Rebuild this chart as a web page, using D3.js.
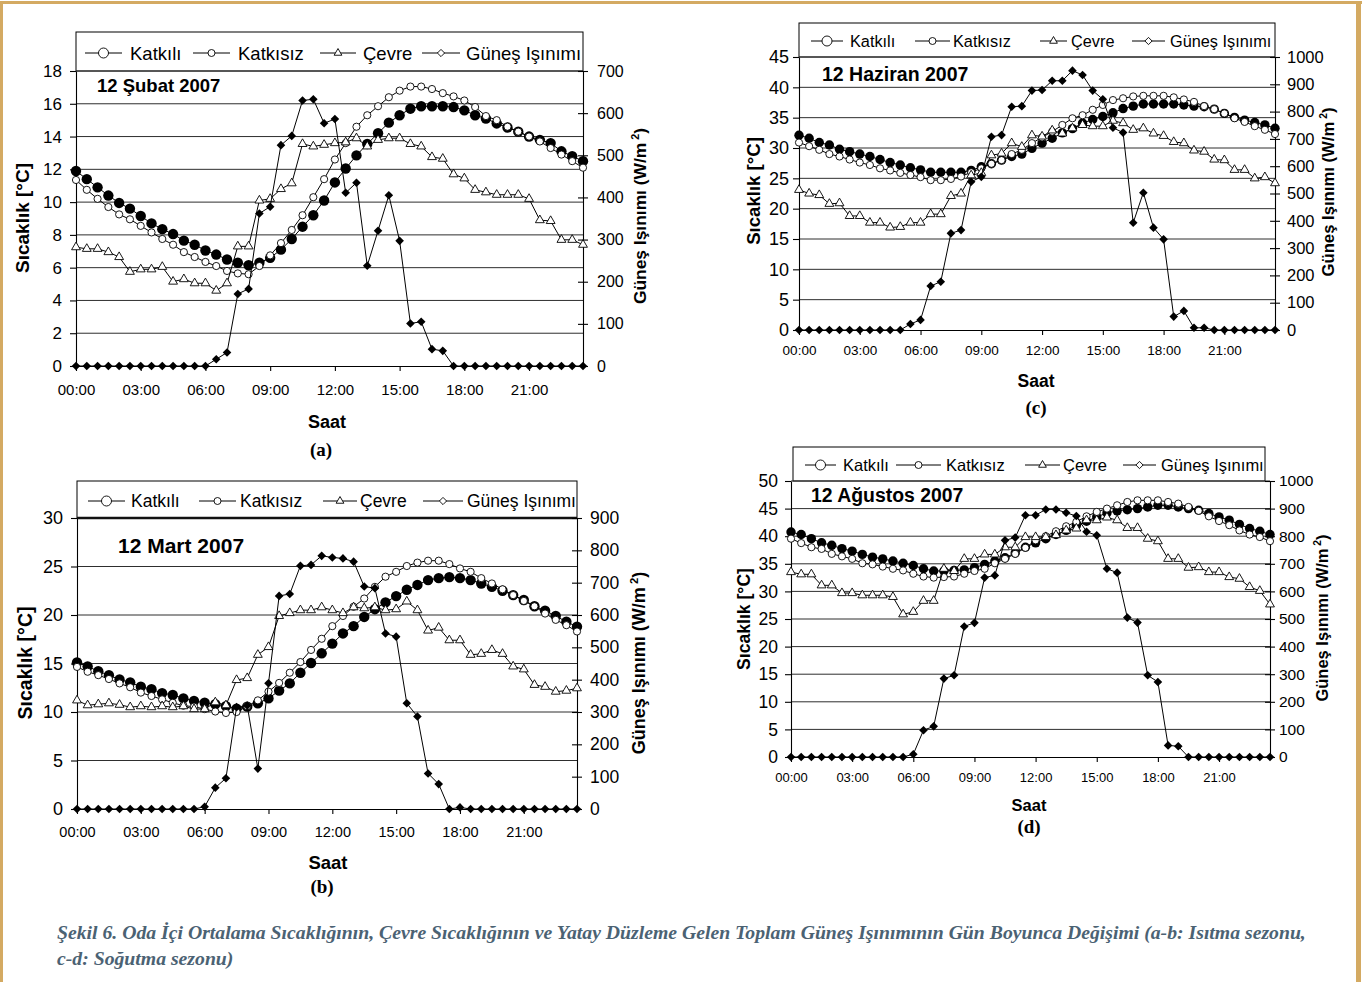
<!DOCTYPE html>
<html>
<head>
<meta charset="utf-8">
<script src="https://cdn.jsdelivr.net/npm/d3@7"></script>
<style>
  body { margin: 0; background: #fff; }
  svg { display: block; }
</style>
</head>
<body>
<svg id="chart" width="1365" height="982" font-family="Arial, 'Liberation Sans', sans-serif"></svg>
<script>
// half-hourly categories 00:00 ... 23:30
const times = d3.range(48).map(i => `${String(i >> 1).padStart(2, '0')}:${i % 2 ? '30' : '00'}`);
const xTicks = ['00:00', '03:00', '06:00', '09:00', '12:00', '15:00', '18:00', '21:00'];
const seriesNames = ['Katkılı', 'Katkısız', 'Çevre', 'Güneş Işınımı'];

// (a) 12 Şubat 2007
const subatKatkili  = [11.9, 11.4, 10.9, 10.4, 9.95, 9.6, 9.15, 8.7, 8.35, 8.05, 7.65, 7.4, 7.05, 6.8, 6.5, 6.3, 6.15, 6.3, 6.6, 7.1, 7.75, 8.5, 9.2, 10.1, 11.2, 12.05, 12.85, 13.55, 14.2, 14.85, 15.3, 15.7, 15.85, 15.85, 15.85, 15.8, 15.6, 15.3, 15.1, 14.8, 14.55, 14.3, 14.0, 13.8, 13.6, 13.1, 12.8, 12.5];
const subatKatkisiz = [11.35, 10.75, 10.2, 9.7, 9.25, 8.95, 8.55, 8.15, 7.75, 7.4, 6.95, 6.65, 6.35, 6.1, 5.8, 5.65, 5.6, 6.1, 6.75, 7.5, 8.3, 9.2, 10.3, 11.4, 12.6, 13.6, 14.6, 15.3, 15.85, 16.4, 16.8, 17.05, 17.05, 16.9, 16.65, 16.45, 16.2, 15.8, 15.25, 15.0, 14.6, 14.3, 14.0, 13.7, 13.3, 12.9, 12.5, 12.1];
const subatCevre    = [7.25, 7.15, 7.15, 6.95, 6.65, 5.75, 5.9, 5.9, 6.05, 5.15, 5.3, 5.05, 5.05, 4.6, 5.05, 7.3, 7.3, 10.1, 10.2, 10.8, 11.15, 13.55, 13.4, 13.5, 13.6, 13.65, 13.9, 13.4, 13.8, 13.9, 13.9, 13.55, 13.4, 12.75, 12.65, 11.7, 11.45, 10.75, 10.6, 10.45, 10.45, 10.45, 10.2, 8.9, 8.85, 7.7, 7.7, 7.4];
const subatGunes    = [0, 0, 0, 0, 0, 0, 0, 0, 0, 0, 0, 0, 0, 16, 32, 171, 183, 362, 378, 524, 546, 630, 633, 576, 586, 411, 435, 238, 321, 405, 297, 101, 105, 40, 36, 0, 0, 0, 0, 0, 0, 0, 0, 0, 0, 0, 0, 0];

// (b) 12 Mart 2007
const martKatkili  = [15.1, 14.7, 14.2, 13.8, 13.35, 13.05, 12.6, 12.35, 11.95, 11.75, 11.4, 11.15, 10.95, 10.8, 10.6, 10.35, 10.55, 10.9, 11.4, 12.2, 12.95, 14.05, 15.05, 16.05, 17.05, 18.1, 18.85, 19.8, 20.6, 21.3, 21.95, 22.6, 23.1, 23.6, 23.8, 23.9, 23.8, 23.6, 23.25, 22.9, 22.5, 22.05, 21.55, 20.9, 20.45, 19.9, 19.3, 18.8];
const martKatkisiz = [14.65, 14.15, 13.8, 13.4, 12.95, 12.55, 12.0, 11.65, 11.3, 10.95, 10.65, 10.55, 10.3, 10.05, 9.9, 10.0, 10.6, 11.2, 12.1, 13.0, 14.05, 15.15, 16.4, 17.55, 18.85, 19.9, 20.85, 21.7, 22.9, 23.95, 24.45, 25.05, 25.4, 25.6, 25.6, 25.25, 24.8, 24.45, 23.8, 23.25, 22.65, 22.05, 21.45, 20.9, 20.15, 19.5, 18.95, 18.3];
const martCevre    = [11.2, 10.7, 10.8, 10.9, 10.75, 10.5, 10.6, 10.5, 10.6, 10.5, 10.6, 10.3, 10.3, 11.0, 10.7, 13.3, 13.5, 15.9, 16.7, 19.9, 20.2, 20.5, 20.5, 20.8, 20.5, 20.2, 20.8, 20.7, 20.8, 20.5, 20.6, 21.4, 20.5, 18.4, 18.7, 17.4, 17.4, 15.9, 16.0, 16.4, 16.0, 14.7, 14.4, 12.8, 12.6, 12.1, 12.2, 12.45];
const martGunes    = [0, 0, 0, 0, 0, 0, 0, 0, 0, 0, 0, 0, 7, 66, 95, 315, 320, 125, 389, 659, 665, 752, 755, 783, 778, 775, 765, 688, 683, 543, 533, 327, 286, 110, 77, 0, 5, 0, 0, 0, 0, 0, 0, 0, 0, 0, 0, 0];

// (c) 12 Haziran 2007
const haziranKatkili  = [32.1, 31.6, 30.9, 30.5, 29.8, 29.4, 29.0, 28.6, 28.1, 27.6, 27.2, 26.75, 26.4, 26.0, 26.0, 26.0, 26.0, 26.3, 26.9, 27.4, 28.0, 28.6, 29.0, 29.95, 30.8, 31.6, 32.5, 33.2, 34.1, 34.7, 35.2, 35.8, 36.5, 36.9, 37.25, 37.25, 37.25, 37.25, 37.1, 36.9, 36.8, 36.4, 35.7, 35.05, 34.6, 34.2, 33.8, 33.25];
const haziranKatkisiz = [30.9, 30.3, 29.7, 29.0, 28.6, 28.1, 27.6, 27.2, 26.65, 26.3, 25.9, 25.55, 25.2, 24.7, 24.7, 24.9, 25.3, 26.0, 26.65, 27.4, 28.0, 29.0, 29.7, 30.8, 31.75, 32.7, 33.8, 34.9, 35.4, 36.3, 37.1, 37.9, 38.2, 38.5, 38.6, 38.6, 38.6, 38.35, 38.0, 37.6, 36.9, 36.4, 35.7, 34.9, 34.3, 33.6, 33.0, 32.3];
const haziranCevre    = [23.1, 22.5, 22.25, 20.8, 20.9, 18.8, 18.8, 17.7, 17.7, 16.9, 17.0, 17.7, 17.7, 19.1, 19.1, 22.1, 22.5, 25.5, 25.9, 28.8, 29.1, 30.8, 30.2, 32.1, 31.9, 32.9, 32.4, 33.25, 33.8, 33.6, 33.6, 34.5, 34.1, 33.0, 33.25, 32.4, 32.0, 31.0, 30.8, 29.6, 29.4, 28.1, 28.0, 26.4, 26.4, 25.0, 25.2, 24.2];
const haziranGunes    = [0, 0, 0, 0, 0, 0, 0, 0, 0, 0, 0, 22, 37, 161, 177, 354, 366, 543, 561, 708, 714, 818, 820, 877, 879, 913, 913, 950, 934, 877, 845, 741, 723, 393, 503, 375, 332, 49, 70, 8, 8, 0, 0, 0, 0, 0, 0, 0];

// (d) 12 Ağustos 2007
const agustosKatkili  = [40.75, 40.3, 39.55, 38.8, 38.35, 37.75, 37.3, 36.7, 36.2, 35.9, 35.5, 35.1, 34.7, 34.1, 33.7, 33.7, 33.8, 33.9, 34.3, 34.9, 35.5, 36.1, 36.95, 38.0, 38.8, 39.55, 40.3, 41.05, 41.95, 42.7, 43.5, 44.2, 44.6, 44.8, 45.0, 45.3, 45.6, 45.6, 45.3, 45.0, 44.7, 44.1, 43.5, 42.9, 42.15, 41.4, 40.9, 40.3];
const agustosKatkisiz = [39.55, 38.75, 38.0, 37.7, 36.8, 36.35, 35.9, 35.1, 34.9, 34.5, 34.1, 33.8, 33.2, 32.7, 32.5, 32.6, 32.7, 33.2, 33.7, 34.1, 35.1, 35.9, 36.8, 37.9, 39.25, 40.0, 40.9, 41.8, 42.6, 43.6, 44.4, 45.0, 45.6, 46.2, 46.5, 46.5, 46.5, 46.2, 45.9, 45.3, 44.6, 43.6, 42.75, 42.0, 41.05, 40.3, 39.85, 39.1];
const agustosCevre    = [33.5, 33.1, 33.1, 31.1, 31.1, 29.7, 29.7, 29.3, 29.3, 29.3, 29.0, 25.85, 26.3, 28.3, 28.3, 34.1, 33.7, 35.9, 35.9, 36.7, 36.7, 38.0, 38.0, 39.85, 39.85, 39.85, 40.2, 41.05, 41.4, 42.9, 42.9, 43.4, 42.9, 41.5, 41.5, 39.55, 39.1, 35.9, 35.9, 34.3, 34.4, 33.5, 33.5, 32.6, 32.3, 30.8, 30.1, 27.65];
const agustosGunes    = [0, 0, 0, 0, 0, 0, 0, 0, 0, 0, 0, 0, 10, 97, 111, 284, 296, 473, 486, 650, 658, 785, 795, 876, 876, 897, 897, 885, 873, 816, 803, 682, 668, 505, 487, 296, 272, 42, 39, 0, 0, 0, 0, 0, 0, 0, 0, 0];

const captionLines = [
  'Şekil 6. Oda İçi Ortalama Sıcaklığının, Çevre Sıcaklığının ve Yatay Düzleme Gelen Toplam Güneş Işınımının Gün Boyunca Değişimi (a-b: Isıtma sezonu,',
  'c-d: Soğutma sezonu)'
];

// panel layouts (pixel positions)
const panels = [
  { data: [subatKatkili, subatKatkisiz, subatCevre, subatGunes],
    left: 76, right: 583, top: 71, bottom: 366, boxTop: 32, yMax: 18, yStep: 2, rMax: 700, rStep: 100,
    title: '12 Şubat 2007', titleX: 97, titleY: 92, titleSize: 18.5,
    yFont: 17, yLabelRight: 62, rFont: 16, rLabelX: 597, xFont: 15, xLabelY: 395,
    yTitleX: 22, yTitleY: 218, yTitleSize: 19, rTitleX: 640, rTitleY: 216, rTitleSize: 17.4,
    saatX: 327, saatY: 428, saatSize: 18, tag: '(a)', tagX: 321, tagY: 456,
    legendY: 53, legendSize: 18.5, bigR: 5.2,
    legend: [[85, 122, 130], [193, 230, 238], [320, 356, 363], [422, 460, 466]] },
  { data: [martKatkili, martKatkisiz, martCevre, martGunes],
    left: 77, right: 577, top: 518, bottom: 809, boxTop: 481, yMax: 30, yStep: 5, rMax: 900, rStep: 100,
    topStroke: 2.5,
    title: '12 Mart 2007', titleX: 118, titleY: 553, titleSize: 21,
    yFont: 18, yLabelRight: 63, rFont: 17.5, rLabelX: 590, xFont: 14.5, xLabelY: 837,
    yTitleX: 25, yTitleY: 663, yTitleSize: 19.5, rTitleX: 639, rTitleY: 663, rTitleSize: 18,
    saatX: 328, saatY: 869, saatSize: 18.5, tag: '(b)', tagX: 322, tagY: 893,
    legendY: 501, legendSize: 17.5, bigR: 5.2,
    legend: [[88, 125, 131], [199, 236, 240], [323, 357, 360], [423, 463, 467]] },
  { data: [haziranKatkili, haziranKatkisiz, haziranCevre, haziranGunes],
    left: 799, right: 1275, top: 57, bottom: 330, boxTop: 23, yMax: 45, yStep: 5, rMax: 1000, rStep: 100,
    title: '12 Haziran 2007', titleX: 822, titleY: 81, titleSize: 19.5,
    yFont: 18, yLabelRight: 789, rFont: 16.5, rLabelX: 1287, xFont: 13.5, xLabelY: 355,
    yTitleX: 753, yTitleY: 191, yTitleSize: 18.6, rTitleX: 1328, rTitleY: 192, rTitleSize: 16.7,
    saatX: 1036, saatY: 387, saatSize: 17.5, tag: '(c)', tagX: 1036, tagY: 414,
    legendY: 41, legendSize: 16.3, bigR: 4.7,
    legend: [[811, 843, 850], [915, 950, 953], [1040, 1067, 1071], [1132, 1165, 1170]] },
  { data: [agustosKatkili, agustosKatkisiz, agustosCevre, agustosGunes],
    left: 791, right: 1270, top: 481, bottom: 757, boxTop: 447, boxLeft: 793, boxRight: 1265,
    yMax: 50, yStep: 5, rMax: 1000, rStep: 100,
    title: '12 Ağustos 2007', titleX: 811, titleY: 502, titleSize: 19.4,
    yFont: 17.5, yLabelRight: 778, rFont: 15.5, rLabelX: 1279, xFont: 13, xLabelY: 782,
    yTitleX: 744, yTitleY: 619, yTitleSize: 17.6, rTitleX: 1322, rTitleY: 618, rTitleSize: 16.5,
    saatX: 1029, saatY: 811, saatSize: 16.5, tag: '(d)', tagX: 1029, tagY: 833,
    legendY: 465, legendSize: 16.5, bigR: 4.7,
    legend: [[805, 836, 843], [896, 941, 946], [1025, 1060, 1063], [1123, 1156, 1161]] }
];

const svg = d3.select('#chart');
const tri = d3.symbol(d3.symbolTriangle, 34)();
const triSmall = d3.symbol(d3.symbolTriangle, 26)();
const diamond = r => `M0,${-r}L${r},0L0,${r}L${-r},0Z`;
const serif = '"Liberation Serif", "Times New Roman", serif';

// page frame
svg.append('rect').attr('x', 0).attr('y', 1).attr('width', 1362).attr('height', 3).attr('fill', '#d4aa62');
svg.append('rect').attr('x', 0).attr('y', 1).attr('width', 3).attr('height', 981).attr('fill', '#d4aa62');
svg.append('rect').attr('x', 1356).attr('y', 1).attr('width', 5).attr('height', 981).attr('fill', '#d4aa62');

function drawPanel(p) {
  const [katkili, katkisiz, cevre, gunes] = p.data;
  const g = svg.append('g');

  const x = d3.scalePoint().domain(times).range([p.left, p.right]);
  const y = d3.scaleLinear().domain([0, p.yMax]).range([p.bottom, p.top]);
  const r = d3.scaleLinear().domain([0, p.rMax]).range([p.bottom, p.top]);
  const bl = p.boxLeft ?? p.left;
  const br = p.boxRight ?? p.right;

  // legend box sits on top of the plot
  g.append('rect')
   .attr('x', bl).attr('y', p.boxTop).attr('width', br - bl).attr('height', p.top - p.boxTop)
   .attr('fill', '#fff').attr('stroke', '#000').attr('stroke-width', 1);

  g.selectAll('.grid')
    .data(d3.range(p.yStep, p.yMax + 1e-6, p.yStep))
    .join('line')
    .attr('x1', p.left).attr('x2', p.right)
    .attr('y1', d => y(d)).attr('y2', d => y(d))
    .attr('stroke', d => (d === p.yMax && p.topStroke) ? '#111' : '#2e2e2e')
    .attr('stroke-width', d => (d === p.yMax && p.topStroke) ? p.topStroke : 1);

  const yAx = g.append('g').attr('transform', `translate(${p.left},0)`)
    .call(d3.axisLeft(y).tickValues(d3.range(0, p.yMax + 1e-6, p.yStep))
      .tickSize(6).tickSizeOuter(0).tickPadding(p.left - p.yLabelRight - 6));
  yAx.selectAll('text').attr('font-size', p.yFont);

  const rAx = g.append('g').attr('transform', `translate(${p.right},0)`)
    .call(d3.axisRight(r).tickValues(d3.range(0, p.rMax + 1e-6, p.rStep)).tickFormat(d3.format('d'))
      .tickSize(5).tickSizeOuter(0).tickPadding(p.rLabelX - p.right - 5));
  rAx.selectAll('.tick line').attr('x1', -5);
  rAx.selectAll('text').attr('font-size', p.rFont);

  const xAx = g.append('g').attr('transform', `translate(0,${p.bottom})`)
    .call(d3.axisBottom(x).tickValues(xTicks)
      .tickSize(5).tickSizeOuter(0).tickPadding(p.xLabelY - p.bottom - 5 - 0.71 * p.xFont));
  xAx.selectAll('text').attr('font-size', p.xFont);

  [yAx, rAx, xAx].forEach(a => {
    a.attr('font-family', null);
    a.selectAll('.domain, .tick line').attr('stroke', '#000').attr('stroke-width', 1.1);
    a.selectAll('text').attr('fill', '#000');
  });

  // series
  const px = (d, i) => x(times[i]);
  const lineL = d3.line().x(px).y(d => y(d));
  const lineR = d3.line().x(px).y(d => r(d));

  g.append('path').datum(katkili).attr('d', lineL).attr('fill', 'none').attr('stroke', '#000');
  g.append('g').selectAll('circle').data(katkili).join('circle')
   .attr('cx', px).attr('cy', d => y(d)).attr('r', p.bigR).attr('fill', '#000');

  g.append('path').datum(katkisiz).attr('d', lineL).attr('fill', 'none').attr('stroke', '#000');
  g.append('g').selectAll('circle').data(katkisiz).join('circle')
   .attr('cx', px).attr('cy', d => y(d)).attr('r', 3.6)
   .attr('fill', '#fff').attr('stroke', '#000').attr('stroke-width', 0.9);

  g.append('path').datum(cevre).attr('d', lineL).attr('fill', 'none').attr('stroke', '#000');
  g.append('g').selectAll('path').data(cevre).join('path')
   .attr('d', tri).attr('transform', (d, i) => `translate(${px(d, i)},${y(d)})`)
   .attr('fill', '#fff').attr('stroke', '#000').attr('stroke-width', 0.9);

  g.append('path').datum(gunes).attr('d', lineR).attr('fill', 'none').attr('stroke', '#000');
  g.append('g').selectAll('path').data(gunes).join('path')
   .attr('d', diamond(4.3)).attr('transform', (d, i) => `translate(${px(d, i)},${r(d)})`)
   .attr('fill', '#000');

  // legend (markers drawn open, as in the original)
  const lg = g.append('g');
  p.legend.forEach(([x0, x1, tx], k) => {
    const mx = (x0 + x1) / 2;
    lg.append('line').attr('x1', x0).attr('x2', x1).attr('y1', p.legendY).attr('y2', p.legendY)
      .attr('stroke', '#000');
    const m = k === 0 ? lg.append('circle').attr('cx', mx).attr('cy', p.legendY).attr('r', 5)
            : k === 1 ? lg.append('circle').attr('cx', mx).attr('cy', p.legendY).attr('r', 3.5)
            : k === 2 ? lg.append('path').attr('d', triSmall).attr('transform', `translate(${mx},${p.legendY})`)
            : lg.append('path').attr('d', diamond(3.6)).attr('transform', `translate(${mx},${p.legendY})`);
    m.attr('fill', '#fff').attr('stroke', '#000').attr('stroke-width', 0.9);
    lg.append('text').attr('x', tx).attr('y', p.legendY + 0.36 * p.legendSize)
      .attr('font-size', p.legendSize).text(seriesNames[k]);
  });

  g.append('text').attr('x', p.titleX).attr('y', p.titleY)
   .attr('font-size', p.titleSize).attr('font-weight', 'bold').text(p.title);

  g.append('text')
   .attr('transform', `translate(${p.yTitleX},${p.yTitleY}) rotate(-90)`)
   .attr('dy', '0.35em').attr('text-anchor', 'middle')
   .attr('font-size', p.yTitleSize).attr('font-weight', 'bold').text('Sıcaklık [°C]');

  const rt = g.append('text')
   .attr('transform', `translate(${p.rTitleX},${p.rTitleY}) rotate(-90)`)
   .attr('dy', '0.35em').attr('text-anchor', 'middle')
   .attr('font-size', p.rTitleSize).attr('font-weight', 'bold');
  rt.append('tspan').text('Güneş Işınımı (W/m');
  rt.append('tspan').attr('font-size', p.rTitleSize * 0.62).attr('dy', -p.rTitleSize * 0.42).text(' 2');
  rt.append('tspan').attr('dy', p.rTitleSize * 0.42).text(')');

  g.append('text').attr('x', p.saatX).attr('y', p.saatY).attr('text-anchor', 'middle')
   .attr('font-size', p.saatSize).attr('font-weight', 'bold').text('Saat');

  g.append('text').attr('x', p.tagX).attr('y', p.tagY).attr('text-anchor', 'middle')
   .attr('font-family', serif)
   .attr('font-size', 19).attr('font-weight', 'bold').text(p.tag);
}

panels.forEach(drawPanel);

// figure caption, bold italic serif; font size chosen so line 1 spans the page like the original
const cap = svg.append('g')
  .attr('font-family', serif)
  .attr('font-style', 'italic').attr('font-weight', 'bold')
  .attr('font-size', 20).attr('fill', '#4b6273');
const c1 = cap.append('text').attr('x', 57).attr('y', 939).text(captionLines[0]);
const fs = Math.min(20, 20 * 1250 / c1.node().getComputedTextLength());
cap.attr('font-size', fs);
cap.append('text').attr('x', 57).attr('y', 965).text(captionLines[1]);
</script>
</body>
</html>
